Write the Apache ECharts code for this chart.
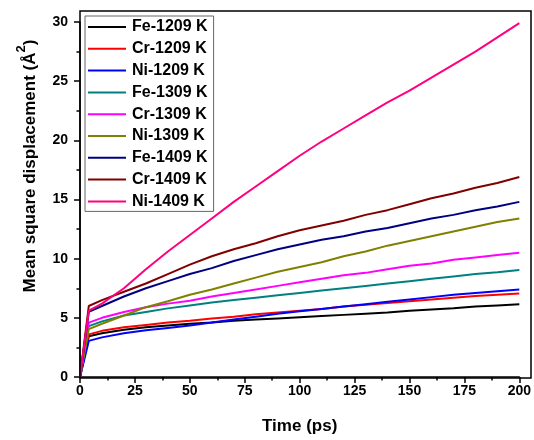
<!DOCTYPE html>
<html>
<head>
<meta charset="utf-8">
<script src="https://cdn.jsdelivr.net/npm/echarts@6/dist/echarts.min.js"></script>
<style>html,body{margin:0;padding:0;background:#fff}#c{width:534px;height:440px}</style>
</head>
<body>
<div id="c"></div>
<script>
const times = [0, 4, 10, 20, 30, 40, 50, 60, 70, 80, 90, 100, 110, 120, 130, 140, 150, 160, 170, 180, 190, 200];
const seriesNames = ['Fe-1209 K', 'Cr-1209 K', 'Ni-1209 K', 'Fe-1309 K', 'Cr-1309 K', 'Ni-1309 K', 'Fe-1409 K', 'Cr-1409 K', 'Ni-1409 K'];
const fe1209 = [0, 3.45, 3.7, 4.0, 4.2, 4.35, 4.5, 4.6, 4.75, 4.85, 4.95, 5.05, 5.15, 5.25, 5.35, 5.45, 5.6, 5.7, 5.8, 5.95, 6.05, 6.15];
const cr1209 = [0, 3.6, 3.9, 4.2, 4.4, 4.6, 4.75, 4.95, 5.1, 5.3, 5.45, 5.6, 5.75, 5.95, 6.1, 6.25, 6.4, 6.55, 6.7, 6.85, 6.95, 7.05];
const ni1209 = [0, 3.05, 3.35, 3.7, 3.95, 4.15, 4.35, 4.6, 4.85, 5.1, 5.35, 5.55, 5.75, 5.95, 6.15, 6.35, 6.55, 6.75, 6.95, 7.1, 7.25, 7.4];
const fe1309 = [0, 4.3, 4.7, 5.2, 5.5, 5.8, 6.05, 6.3, 6.5, 6.7, 6.9, 7.1, 7.3, 7.5, 7.7, 7.9, 8.1, 8.3, 8.5, 8.7, 8.85, 9.05];
const cr1309 = [0, 4.6, 5.0, 5.5, 5.9, 6.2, 6.45, 6.8, 7.1, 7.4, 7.7, 8.0, 8.3, 8.6, 8.8, 9.1, 9.4, 9.6, 9.9, 10.1, 10.3, 10.5];
const ni1309 = [0, 4.05, 4.5, 5.2, 5.9, 6.4, 6.95, 7.4, 7.9, 8.4, 8.9, 9.3, 9.7, 10.2, 10.6, 11.1, 11.5, 11.9, 12.3, 12.7, 13.1, 13.4];
const fe1409 = [0, 5.5, 6.0, 6.8, 7.5, 8.1, 8.7, 9.2, 9.8, 10.3, 10.8, 11.2, 11.6, 11.9, 12.3, 12.6, 13.0, 13.4, 13.7, 14.1, 14.4, 14.8];
const cr1409 = [0, 6.0, 6.5, 7.2, 7.9, 8.7, 9.5, 10.2, 10.8, 11.3, 11.9, 12.4, 12.8, 13.2, 13.7, 14.1, 14.6, 15.1, 15.5, 16.0, 16.4, 16.9];
const ni1409 = [0, 5.6, 6.2, 7.5, 9.1, 10.6, 12.0, 13.4, 14.8, 16.1, 17.4, 18.7, 19.9, 21.0, 22.1, 23.2, 24.2, 25.3, 26.4, 27.5, 28.7, 29.9];
const seriesValues = [fe1209, cr1209, ni1209, fe1309, cr1309, ni1309, fe1409, cr1409, ni1409];
const colors = ['#000000', '#ff0000', '#0000ff', '#008080', '#ff00ff', '#808000', '#000080', '#800000', '#ff0080'];

const FONT = '"Liberation Sans", Arial, sans-serif';
const chart = echarts.init(document.getElementById('c'));
const series = seriesNames.map((name, i) => ({
  name: name,
  type: 'line',
  symbol: 'none',
  data: times.map((t, j) => [t, seriesValues[i][j]]),
  lineStyle: { color: colors[i], width: 2 },
  itemStyle: { color: colors[i] }
}));

chart.setOption({
  animation: false,
  backgroundColor: '#fff',
  grid: { left: 80, right: 11.3, top: 22, bottom: 62, containLabel: false },
  legend: {
    orient: 'vertical',
    left: 85, top: 16,
    padding: [3, 6, 2, 2],
    itemWidth: 38, itemHeight: 14, itemGap: 5.8,
    borderColor: '#666', borderWidth: 1,
    itemStyle: { opacity: 0 },
    textStyle: { fontFamily: FONT, fontWeight: 'bold', fontSize: 16, color: '#000', padding: [0, 0, 0, 1] },
    data: seriesNames
  },
  xAxis: {
    type: 'value', min: 0, max: 200, interval: 25,
    name: 'Time (ps)', nameLocation: 'middle', nameGap: 41,
    nameTextStyle: { fontFamily: FONT, fontWeight: 'bold', fontSize: 17, color: '#000' },
    axisLine: { show: true, lineStyle: { color: '#000', width: 1.5 } },
    axisTick: { show: true, inside: false, length: 6, lineStyle: { color: '#000', width: 1.5 } },
    minorTick: { show: true, splitNumber: 2, length: 3.5, lineStyle: { color: '#000', width: 1.5 } },
    axisLabel: { margin: 7, fontFamily: FONT, fontWeight: 'bold', fontSize: 14, color: '#000' },
    splitLine: { show: false }
  },
  yAxis: {
    type: 'value', min: 0, max: 30, interval: 5,
    axisLine: { show: true, lineStyle: { color: '#000', width: 1.5 } },
    axisTick: { show: true, inside: false, length: 6, lineStyle: { color: '#000', width: 1.5 } },
    minorTick: { show: true, splitNumber: 2, length: 3.5, lineStyle: { color: '#000', width: 1.5 } },
    axisLabel: { margin: 12, fontFamily: FONT, fontWeight: 'bold', fontSize: 14, color: '#000' },
    splitLine: { show: false }
  },
  graphic: [
    {
      type: 'rect', z: 100, silent: true,
      shape: { x: 80, y: 11, width: 451, height: 367 },
      style: { fill: 'none', stroke: '#000', lineWidth: 1.5 }
    },
    {
      type: 'text', z: 100, x: 27, y: 166, rotation: Math.PI / 2,
      style: {
        text: '{a|Mean square displacement (Å}{s|2}{a|)}',
        align: 'center', verticalAlign: 'middle',
        fill: '#000',
        rich: {
          a: { fontFamily: FONT, fontWeight: 'bold', fontSize: 17, lineHeight: 24, verticalAlign: 'bottom', fill: '#000' },
          s: { fontFamily: FONT, fontWeight: 'bold', fontSize: 13, lineHeight: 13, verticalAlign: 'top', fill: '#000' }
        }
      }
    }
  ],
  series: series
});
</script>
</body>
</html>
